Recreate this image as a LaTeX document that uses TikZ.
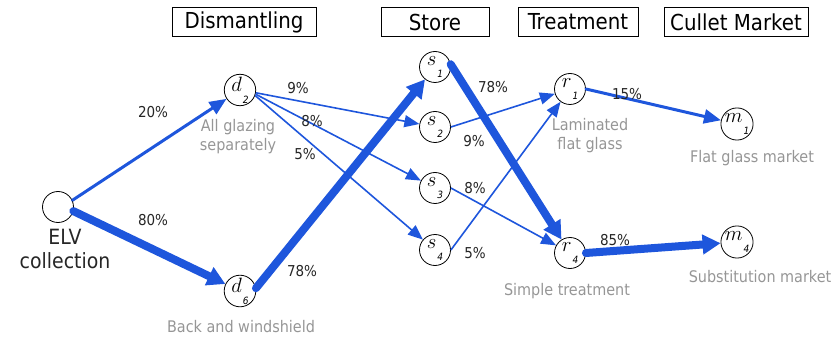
\documentclass[tikz,border=0pt]{standalone}
\usepackage{fontspec}
\setmainfont{DejaVu Sans Condensed}
\usetikzlibrary{arrows.meta}

\definecolor{flowblue}{RGB}{30,86,220}
\definecolor{notegray}{RGB}{150,150,150}
\newcommand{\stlabel}[2]{\raisebox{5pt}{$#1$}\hspace{1pt}\raisebox{-7pt}{\fontsize{10}{10}\selectfont$\mathit{#2}$}}

\tikzset{
  stagebox/.style={draw,thick,minimum height=29pt,inner xsep=3pt,font=\fontsize{22}{24}\selectfont},
  state/.style={circle,draw,thick,minimum size=31pt,inner sep=0pt,font=\fontsize{21}{21}\selectfont},
  share/.style={font=\fontsize{15}{15}\selectfont,text=black!85},
  note/.style={align=center,text=notegray,font=\fontsize{16}{19}\selectfont},
  thinflow/.style={draw=flowblue,line width=1.6pt,-{Triangle[length=15pt,width=12pt]}},
  midflow/.style={draw=flowblue,line width=3pt,line cap=round,-{Triangle[length=17pt,width=14pt]}},
  bigflow/.style={draw=flowblue,line width=8pt,line cap=round,-{Triangle[length=18pt,width=19pt]}}
}

\begin{document}
\begin{tikzpicture}[scale=1.000000,x=1pt,y=1pt]
\useasboundingbox (0.000000,0.000000) rectangle (834.000000,340.000000);
% Drawing stage headers
\node[stagebox,minimum width=144pt] (hdis) at (244.000000,318.000000) {Dismantling};
\node[stagebox,minimum width=108pt] (hsto) at (435.000000,318.000000) {Store};
\node[stagebox,minimum width=120pt] (htre) at (578.000000,318.000000) {Treatment};
\node[stagebox,minimum width=144pt] (hcul) at (736.000000,318.000000) {Cullet Market};
% Done with headers; drawing states
\node[state] (elv) at (58.000000,133.000000) {};
\node[state] (d2) at (240.000000,250.000000) {\stlabel{d}{2}};
\node[state] (d6) at (240.000000,49.000000) {\stlabel{d}{6}};
\node[state] (s1) at (435.000000,273.000000) {\stlabel{s}{1}};
\node[state] (s2) at (435.000000,213.000000) {\stlabel{s}{2}};
\node[state] (s3) at (435.000000,152.000000) {\stlabel{s}{3}};
\node[state] (s4) at (435.000000,90.000000) {\stlabel{s}{4}};
\node[state] (r1) at (570.000000,251.000000) {\stlabel{r}{1}};
\node[state] (r4) at (570.000000,87.000000) {\stlabel{r}{4}};
\node[state] (m1) at (737.000000,216.000000) {\stlabel{m}{1}};
\node[state] (m4) at (737.000000,98.000000) {\stlabel{m}{4}};
% Done with states; drawing notes
\node[align=center,text=black!85,font=\fontsize{21}{24}\selectfont] (elvnote) at (65.000000,91.000000) {ELV\\collection};
\node[note] (d2note) at (238.000000,203.000000) {All glazing\\separately};
\node[note] (d6note) at (241.000000,13.000000) {Back and windshield};
\node[note] (r1note) at (590.000000,204.000000) {Laminated\\flat glass};
\node[note] (r4note) at (567.000000,49.000000) {Simple treatment};
\node[note] (m1note) at (752.000000,182.000000) {Flat glass market};
\node[note] (m4note) at (760.000000,63.000000) {Substitution market};
% Done with notes; drawing flows
\draw[midflow] (elv.25) -- (d2);
\draw[bigflow] (elv.-15) -- (d6);
\draw[thinflow] (d2.-10) -- (s2);
\draw[thinflow] (d2.-15) -- (s3);
\draw[thinflow] (d2.-20) -- (s4);
\draw[bigflow] (d6.10) -- (s1);
\draw[bigflow] (s1.10) -- (r4);
\draw[thinflow] (s2.east) -- (r1);
\draw[thinflow] (s3.east) -- (r4);
\draw[thinflow] (s4.east) -- (r1);
\draw[midflow] (r1.east) -- (m1);
\draw[bigflow] (r4.east) -- (m4);
% Done with flows; drawing shares
\node[share] (p20) at (153.000000,228.000000) {20\%};
\node[share] (p80) at (153.000000,120.000000) {80\%};
\node[share] (p9a) at (298.000000,252.000000) {9\%};
\node[share] (p8a) at (312.000000,219.000000) {8\%};
\node[share] (p5a) at (305.000000,186.000000) {5\%};
\node[share] (p78a) at (302.000000,69.000000) {78\%};
\node[share] (p78b) at (493.000000,253.000000) {78\%};
\node[share] (p9b) at (474.000000,199.000000) {9\%};
\node[share] (p8b) at (475.000000,152.000000) {8\%};
\node[share] (p5b) at (475.000000,87.000000) {5\%};
\node[share] (p15) at (627.000000,246.000000) {15\%};
\node[share] (p85) at (615.000000,100.000000) {85\%};
% Done with shares
\end{tikzpicture}
\end{document}
